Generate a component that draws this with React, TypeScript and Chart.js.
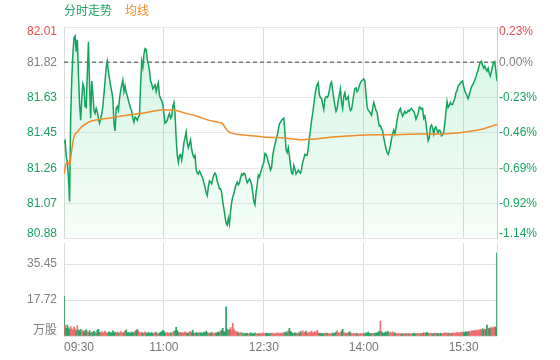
import React, { useEffect, useRef } from 'react';
import { Chart, registerables } from 'chart.js';

Chart.register(...registerables);

const timeTickMinutes = [0, 90, 180, 270, 360, 390];
const timeLabels = ['09:30', '11:00', '12:30', '14:00', '15:30', ''];
const priceTickLabels = ['82.01', '81.82', '81.63', '81.45', '81.26', '81.07', '80.88'];
const pctTickLabels = ['0.23%', '0.00%', '-0.23%', '-0.46%', '-0.69%', '-0.92%', '-1.14%'];
const volTickValues = [0, 17.72, 35.45];
const volTickLabels = ['万股', '17.72', '35.45'];
const PREV_CLOSE = 81.82;
const PRICE_STEP = 0.18737;
const VOL_MAX = 45.8;

// minute-by-minute price, 09:30 .. 16:00
const prices = [
  81.393, 81.404, 81.325, 81.289, 81.211, 81.081, 81.523, 81.732, 81.862, 81.950,
  81.960, 81.877, 81.940, 81.758, 81.601, 81.513, 81.627, 81.705, 81.685, 81.586,
  81.581, 81.758, 81.929, 81.705, 81.523, 81.721, 81.653, 81.565, 81.549, 81.575,
  81.555, 81.523, 81.497, 81.523, 81.544, 81.586, 81.653, 81.721, 81.794, 81.825,
  81.773, 81.732, 81.695, 81.664, 81.627, 81.497, 81.456, 81.575, 81.586, 81.565,
  81.627, 81.669, 81.700, 81.726, 81.664, 81.695, 81.659, 81.643, 81.617, 81.596,
  81.575, 81.560, 81.523, 81.502, 81.529, 81.523, 81.513, 81.529, 81.539, 81.705,
  81.825, 81.794, 81.862, 81.893, 81.888, 81.836, 81.810, 81.773, 81.721, 81.705,
  81.680, 81.690, 81.700, 81.664, 81.690, 81.711, 81.643, 81.627, 81.617, 81.596,
  81.549, 81.497, 81.502, 81.513, 81.534, 81.549, 81.523, 81.534, 81.586, 81.607,
  81.549, 81.419, 81.326, 81.289, 81.326, 81.331, 81.300, 81.341, 81.393, 81.419,
  81.450, 81.393, 81.367, 81.388, 81.409, 81.357, 81.331, 81.315, 81.326, 81.253,
  81.232, 81.227, 81.242, 81.232, 81.216, 81.206, 81.180, 81.159, 81.128, 81.112,
  81.159, 81.190, 81.185, 81.175, 81.201, 81.221, 81.232, 81.221, 81.190, 81.170,
  81.149, 81.149, 81.128, 81.081, 81.044, 81.003, 80.966, 80.956, 80.992, 80.961,
  81.029, 81.076, 81.107, 81.123, 81.149, 81.170, 81.185, 81.170, 81.180, 81.206,
  81.227, 81.221, 81.232, 81.227, 81.201, 81.180, 81.190, 81.201, 81.190, 81.170,
  81.128, 81.081, 81.065, 81.128, 81.170, 81.221, 81.211, 81.232, 81.253, 81.273,
  81.289, 81.336, 81.331, 81.315, 81.289, 81.273, 81.248, 81.263, 81.326, 81.357,
  81.383, 81.409, 81.430, 81.461, 81.492, 81.502, 81.513, 81.518, 81.523, 81.445,
  81.357, 81.341, 81.367, 81.326, 81.273, 81.232, 81.227, 81.273, 81.253, 81.227,
  81.237, 81.248, 81.237, 81.232, 81.253, 81.289, 81.310, 81.331, 81.326, 81.326,
  81.367, 81.419, 81.461, 81.513, 81.549, 81.596, 81.643, 81.680, 81.700, 81.711,
  81.648, 81.633, 81.627, 81.596, 81.570, 81.627, 81.638, 81.633, 81.643, 81.669,
  81.705, 81.716, 81.669, 81.627, 81.591, 81.560, 81.575, 81.617, 81.648, 81.680,
  81.607, 81.575, 81.638, 81.659, 81.622, 81.627, 81.638, 81.586, 81.565, 81.570,
  81.607, 81.648, 81.680, 81.685, 81.664, 81.674, 81.695, 81.711, 81.721, 81.726,
  81.732, 81.721, 81.653, 81.586, 81.565, 81.560, 81.549, 81.539, 81.575, 81.607,
  81.586, 81.565, 81.555, 81.513, 81.482, 81.484, 81.466, 81.456, 81.419, 81.388,
  81.362, 81.341, 81.331, 81.352, 81.378, 81.414, 81.440, 81.461, 81.440, 81.471,
  81.513, 81.544, 81.565, 81.575, 81.549, 81.534, 81.549, 81.560, 81.549, 81.555,
  81.565, 81.560, 81.570, 81.575, 81.565, 81.560, 81.544, 81.518, 81.534, 81.549,
  81.581, 81.581, 81.570, 81.575, 81.523, 81.534, 81.497, 81.445, 81.404, 81.419,
  81.477, 81.487, 81.471, 81.440, 81.471, 81.477, 81.461, 81.445, 81.461, 81.456,
  81.430, 81.435, 81.450, 81.497, 81.555, 81.612, 81.581, 81.591, 81.607, 81.596,
  81.596, 81.612, 81.627, 81.659, 81.669, 81.695, 81.700, 81.711, 81.716, 81.721,
  81.690, 81.669, 81.653, 81.643, 81.627, 81.648, 81.669, 81.690, 81.700, 81.711,
  81.726, 81.742, 81.763, 81.778, 81.804, 81.820, 81.825, 81.804, 81.789, 81.799,
  81.784, 81.773, 81.789, 81.763, 81.747, 81.773, 81.799, 81.820, 81.825, 81.773,
  81.721,
];

const avgMinutes = [0, 2, 4, 5, 7, 9, 12, 16, 22, 30, 40, 50, 60, 70, 80, 90, 100, 110, 120, 130, 140, 143, 146, 150, 160, 180, 200, 215, 222, 240, 260, 280, 300, 320, 340, 355, 365, 375, 383, 390];
const avgPrices = [81.227, 81.284, 81.289, 81.273, 81.357, 81.424, 81.450, 81.477, 81.502, 81.515, 81.523, 81.534, 81.542, 81.549, 81.560, 81.568, 81.565, 81.549, 81.534, 81.513, 81.500, 81.492, 81.466, 81.445, 81.435, 81.424, 81.417, 81.409, 81.411, 81.422, 81.430, 81.435, 81.436, 81.439, 81.440, 81.445, 81.453, 81.463, 81.477, 81.490];

// volume in 万股 per minute
const volumes = [
  19.7, 5.2, 3.8, 5.4, 4.1, 3.2, 4.8, 3.6, 2.9, 4.4,
  3.5, 2.6, 5.1, 3.0, 2.4, 3.3, 2.1, 2.8, 1.9, 2.5,
  3.1, 2.2, 1.8, 2.7, 1.6, 2.0, 1.5, 2.3, 1.7, 1.4,
  2.9, 3.3, 1.8, 1.5, 2.2, 1.3, 1.9, 2.4, 1.6, 1.2,
  1.8, 2.1, 1.4, 1.7, 2.6, 1.5, 1.9, 1.3, 2.0, 1.6,
  1.4, 2.3, 1.7, 1.2, 1.8, 2.5, 3.0, 1.5, 1.9, 1.3,
  1.6, 2.0, 1.4, 1.8, 2.2, 2.8, 3.2, 2.6, 1.7, 1.5,
  1.9, 1.3, 1.6, 2.1, 1.4, 1.2, 1.8, 1.5, 1.3, 1.7,
  1.2, 1.6, 1.4, 1.9, 1.3, 1.1, 1.5, 1.8, 2.1, 2.7,
  2.4, 1.6, 1.3, 1.8, 1.5, 1.2, 1.6, 1.4, 1.9, 2.2,
  2.6, 4.3, 2.8, 1.9, 1.5, 1.8, 1.3, 1.6, 1.4, 2.0,
  1.7, 1.3, 1.5, 1.9, 2.3, 1.6, 2.8, 1.4, 1.2, 1.7,
  1.5, 1.3, 1.8, 1.4, 1.6, 1.2, 1.9, 1.5, 2.4, 1.7,
  1.3, 1.6, 1.2, 1.8, 1.4, 1.1, 1.5, 1.3, 1.7, 2.0,
  1.6, 2.4, 2.9, 3.8, 2.2, 1.9, 14.4, 3.4, 2.6, 3.1,
  4.2, 2.7, 6.3, 3.5, 2.4, 1.9, 2.2, 1.6, 1.4, 1.8,
  1.2, 1.5, 1.0, 1.3, 1.1, 1.4, 0.9, 1.2, 1.6, 1.0,
  1.3, 1.1, 1.5, 0.9, 1.2, 1.4, 1.0, 1.3, 1.1, 1.6,
  1.2, 1.0, 1.4, 1.1, 1.3, 0.9, 1.2, 1.5, 1.1, 1.3,
  1.0, 1.4, 1.2, 1.6, 1.1, 1.3, 1.5, 1.2, 1.8, 1.4,
  2.1, 1.6, 2.6, 3.8, 2.3, 1.7, 1.4, 1.2, 1.5, 1.3,
  1.1, 1.6, 1.4, 2.2, 1.8, 2.6, 1.5, 1.9, 2.4, 1.6,
  1.3, 2.0, 1.7, 2.5, 1.4, 1.8, 2.2, 1.5, 2.8, 1.6,
  1.2, 1.4, 1.1, 1.3, 1.0, 1.5, 1.2, 1.4, 1.1, 1.3,
  1.0, 1.2, 1.5, 1.1, 1.4, 1.8, 2.6, 1.7, 1.3, 1.6,
  2.4, 3.3, 1.9, 1.4, 1.2, 1.5, 1.3, 2.2, 1.6, 1.2,
  1.0, 1.3, 1.1, 1.4, 1.2, 0.9, 1.1, 1.3, 1.0, 1.2,
  1.4, 1.1, 1.5, 1.3, 2.0, 1.2, 1.0, 1.3, 1.1, 1.4,
  1.2, 1.6, 1.3, 1.9, 2.4, 7.4, 2.2, 1.5, 1.3, 1.6,
  2.0, 1.7, 2.3, 1.4, 1.8, 1.5, 2.1, 1.3, 1.6, 1.2,
  1.0, 1.3, 1.1, 1.2, 0.9, 1.1, 1.3, 1.0, 1.2, 1.1,
  1.3, 1.0, 1.2, 0.9, 1.1, 1.4, 1.2, 1.0, 1.3, 1.1,
  1.2, 1.4, 1.1, 1.3, 1.6, 1.2, 1.5, 1.8, 1.3, 1.1,
  1.4, 1.2, 1.0, 1.3, 1.5, 1.1, 1.3, 1.2, 1.0, 1.4,
  1.2, 1.1, 1.3, 1.6, 1.4, 1.2, 1.5, 1.3, 1.1, 1.4,
  1.3, 1.6, 1.2, 1.5, 1.8, 1.4, 1.7, 1.5, 2.0, 1.6,
  1.9, 1.7, 2.2, 1.8, 2.1, 2.4, 1.9, 2.6, 2.3, 2.8,
  2.5, 2.9, 2.4, 3.1, 2.7, 3.3, 2.9, 3.6, 3.0, 3.4,
  3.2, 5.4, 3.8, 3.5, 4.1, 3.7, 4.4, 4.0, 4.6, 4.3,
  41.0,
];

const RED = '#e84c4c';
const GREEN = '#1aa35f';
const GRAY = '#808080';
const ORANGE = '#f08c2a';
const FONT = '"Liberation Sans", "Noto Sans CJK SC", sans-serif';

const xTicks = (scale: any) => {
  scale.ticks = timeTickMinutes.map((v) => ({ value: v }));
};

export default function App() {
  const priceRef = useRef<HTMLCanvasElement>(null);
  const volRef = useRef<HTMLCanvasElement>(null);

  useEffect(() => {
    Chart.defaults.font.family = FONT;
    const pMin = PREV_CLOSE - 5 * PRICE_STEP;
    const pMax = PREV_CLOSE + PRICE_STEP;
    const yTicks = (scale: any) => {
      const arr = [];
      for (let k = -5; k <= 1; k++) arr.push({ value: PREV_CLOSE + k * PRICE_STEP });
      scale.ticks = arr;
    };
    const tickColor = (ctx: any) => (ctx.index === 6 ? RED : ctx.index === 5 ? GRAY : GREEN);
    const labelFrom = (labels: string[]) => (_v: any, i: number) => {
      const lab = labels[labels.length - 1 - i];
      if (i === labels.length - 1) return ['', lab];
      if (i === 0) return [lab, ''];
      return lab;
    };

    const priceChart = new Chart(priceRef.current!, {
      type: 'line',
      data: {
        datasets: [
          {
            data: avgMinutes.map((m, i) => ({ x: m, y: avgPrices[i] })),
            borderColor: ORANGE,
            borderWidth: 1.5,
            pointRadius: 0,
            fill: false,
            cubicInterpolationMode: 'monotone',
          },
          {
            data: prices.map((p, i) => ({ x: i, y: p })),
            borderColor: '#12a35c',
            borderWidth: 1.5,
            pointRadius: 0,
            tension: 0,
            fill: 'start',
            backgroundColor: (ctx: any) => {
              const { chart } = ctx;
              const area = chart.chartArea;
              if (!area) return 'rgba(30,200,110,0.1)';
              const g = chart.ctx.createLinearGradient(0, area.top, 0, area.bottom);
              g.addColorStop(0, 'rgba(30,205,110,0.2)');
              g.addColorStop(1, 'rgba(30,205,110,0.04)');
              return g;
            },
          },
          {
            data: [{ x: 0, y: PREV_CLOSE }, { x: 390, y: PREV_CLOSE }],
            borderColor: '#7a7a7a',
            borderWidth: 1.5,
            borderDash: [4, 3],
            pointRadius: 0,
            fill: false,
          },
        ],
      },
      options: {
        responsive: false,
        animation: false,
        events: [],
        layout: { padding: { top: 27, bottom: 13, left: 0, right: 0 } },
        plugins: { legend: { display: false }, tooltip: { enabled: false } },
        scales: {
          x: {
            type: 'linear',
            min: 0,
            max: 390,
            afterBuildTicks: xTicks,
            ticks: { display: false, autoSkip: false },
            grid: { color: '#dcdcdc', drawTicks: false },
            border: { display: false },
            afterFit: (s: any) => { s.height = 0; },
          },
          y: {
            position: 'left',
            min: pMin,
            max: pMax,
            afterBuildTicks: yTicks,
            ticks: {
              callback: labelFrom(priceTickLabels),
              color: tickColor,
              padding: 7,
              autoSkip: false,
              font: { size: 12, lineHeight: 0.85 },
            },
            grid: { color: '#e8e8e8', drawTicks: false },
            border: { color: '#dcdcdc' },
            afterFit: (s: any) => { s.width = 64; },
          },
          y2: {
            position: 'right',
            min: pMin,
            max: pMax,
            afterBuildTicks: yTicks,
            ticks: {
              callback: labelFrom(pctTickLabels),
              color: tickColor,
              padding: 2,
              autoSkip: false,
              font: { size: 12, lineHeight: 0.85 },
            },
            grid: { display: false, drawTicks: false },
            border: { color: '#cccccc' },
            afterFit: (s: any) => { s.width = 63; },
          },
        },
      },
    } as any);

    const barColors = volumes.map((_v, i) =>
      i > 0 && prices[i] >= prices[i - 1] ? 'rgba(240,96,96,0.85)' : 'rgba(26,160,95,0.9)'
    );

    const volChart = new Chart(volRef.current!, {
      type: 'bar',
      data: {
        datasets: [
          {
            data: volumes.map((v, i) => ({ x: i, y: v })),
            backgroundColor: barColors,
            borderWidth: 0,
            barPercentage: 1,
            categoryPercentage: 1,
          },
        ],
      },
      options: {
        responsive: false,
        animation: false,
        events: [],
        layout: { padding: { top: 13, bottom: 0, left: 0, right: 63 } },
        plugins: { legend: { display: false }, tooltip: { enabled: false } },
        scales: {
          x: {
            type: 'linear',
            min: 0,
            max: 390,
            offset: false,
            afterBuildTicks: xTicks,
            ticks: {
              callback: (_v: any, i: number) => timeLabels[i],
              align: 'inner',
              autoSkip: false,
              maxRotation: 0,
              color: '#777777',
              padding: 4,
              font: { size: 12 },
            },
            grid: { color: '#dcdcdc', drawTicks: false, offset: false },
            border: { display: false },
            afterFit: (s: any) => { s.height = 24; },
          },
          y: {
            position: 'left',
            min: 0,
            max: VOL_MAX,
            afterBuildTicks: (s: any) => { s.ticks = volTickValues.map((v) => ({ value: v })); },
            ticks: {
              callback: (_v: any, i: number) => (i === 0 ? [volTickLabels[0], ''] : volTickLabels[i]),
              color: GRAY,
              padding: 7,
              autoSkip: false,
              font: { size: 12, lineHeight: 0.85 },
            },
            grid: { color: '#e3e3e3', drawTicks: false },
            border: { color: '#dcdcdc' },
            afterFit: (s: any) => { s.width = 64; },
          },
        },
      },
    } as any);

    return () => {
      priceChart.destroy();
      volChart.destroy();
    };
  }, []);

  return (
    <div style={{ position: 'absolute', left: 0, top: 0, width: 560, height: 360, background: '#ffffff', overflow: 'hidden' }}>
      <canvas ref={volRef} width={560} height={130} style={{ position: 'absolute', left: 0, top: 230, width: 560, height: 130 }} />
      <canvas ref={priceRef} width={560} height={256} style={{ position: 'absolute', left: 0, top: 0, width: 560, height: 256 }} />
      <div style={{ position: 'absolute', left: 64, top: 3, fontFamily: '"Noto Sans CJK SC", sans-serif', fontSize: 12, lineHeight: '14px', whiteSpace: 'nowrap' }}>
        <span style={{ color: GREEN }}>分时走势</span>
        <span style={{ color: ORANGE, marginLeft: 13 }}>均线</span>
      </div>
    </div>
  );
}
